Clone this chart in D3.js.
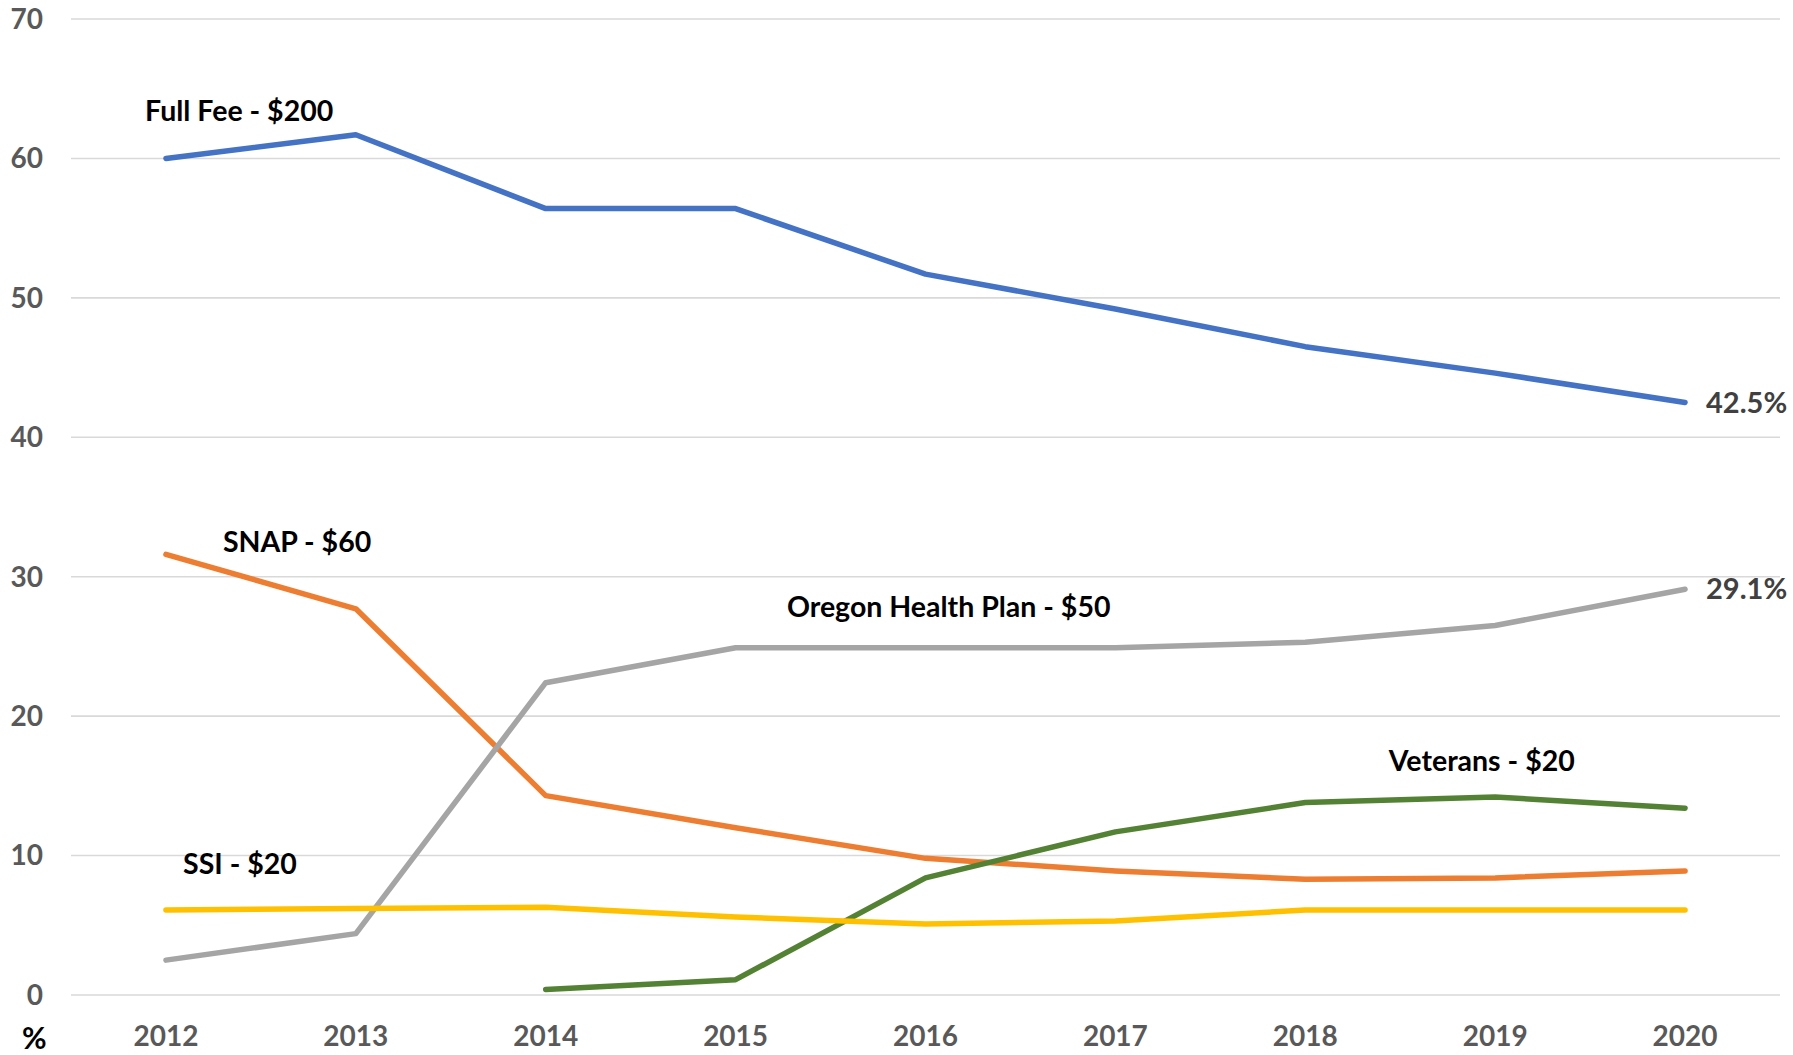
<!DOCTYPE html>
<html>
<head>
<meta charset="utf-8">
<script src="https://cdn.jsdelivr.net/npm/d3@7"></script>
<style>
  body { margin:0; background:#fff; }
  svg text { font-family: Lato, "Open Sans", sans-serif; font-weight:700; }
  .grid line { stroke:#d9d9d9; stroke-width:1.6; }
  .tick-lbl { fill:#595959; font-size:28px; }
  .series-lbl { fill:#000; font-size:28.5px; }
  .end-lbl { fill:#404040; font-size:29px; }
</style>
</head>
<body>
<svg width="1793" height="1055"></svg>
<script>
const years = [2012, 2013, 2014, 2015, 2016, 2017, 2018, 2019, 2020];
const yTicks = [0, 10, 20, 30, 40, 50, 60, 70];

const fullFee  = [60.0, 61.7, 56.4, 56.4, 51.7, 49.2, 46.5, 44.6, 42.5];
const snap     = [31.6, 27.7, 14.3, 12.0, 9.8, 8.9, 8.3, 8.4, 8.9];
const ohp      = [2.5, 4.4, 22.4, 24.9, 24.9, 24.9, 25.3, 26.5, 29.1];
const ssi      = [6.1, 6.2, 6.3, 5.6, 5.1, 5.3, 6.1, 6.1, 6.1];
const veterans = [null, null, 0.4, 1.1, 8.4, 11.7, 13.8, 14.2, 13.4];

const seriesNames  = ['Full Fee - $200', 'SNAP - $60', 'Oregon Health Plan - $50', 'Veterans - $20', 'SSI - $20'];
const seriesValues = [fullFee, snap, ohp, veterans, ssi];
const seriesColors = ['#4472c4', '#ed7d31', '#a5a5a5', '#548235', '#ffc000'];
// where each name sits: [year, value]
const labelAnchors = [[2011.89, 63.4], [2012.3, 32.5], [2015.27, 27.8], [2018.44, 16.8], [2012.09, 9.4]];

const svg = d3.select('svg');
const M = { top:19, right:13, bottom:60, left:71 };
const W = 1793, H = 1055;

const x = d3.scaleBand().domain(years).range([M.left, W - M.right]);
const xc = yr => x(yr) + x.bandwidth() / 2;
const y = d3.scaleLinear().domain([0, 70]).range([995, M.top]);

// gridlines
svg.append('g').attr('class', 'grid')
  .selectAll('line').data(yTicks).join('line')
    .attr('x1', M.left).attr('x2', W - M.right)
    .attr('y1', d => y(d)).attr('y2', d => y(d));

// y tick labels
svg.append('g').selectAll('text').data(yTicks).join('text')
  .attr('class', 'tick-lbl')
  .attr('x', 43).attr('y', d => y(d)).attr('dy', '0.35em')
  .attr('text-anchor', 'end')
  .text(d => d);

// x tick labels
svg.append('g').selectAll('text').data(years).join('text')
  .attr('class', 'tick-lbl')
  .attr('x', d => xc(d)).attr('y', 1036).attr('dy', '0.35em')
  .attr('text-anchor', 'middle')
  .text(d => d);

svg.append('text').attr('class', 'series-lbl')
  .style('font-size', '30px')
  .attr('x', 22).attr('y', 1038).attr('dy', '0.35em')
  .text('%');

// lines
const line = d3.line()
  .defined(d => d[1] != null)
  .x(d => xc(d[0])).y(d => y(d[1]));

seriesValues.forEach((vals, i) => {
  svg.append('path')
    .datum(years.map((yr, j) => [yr, vals[j]]))
    .attr('fill', 'none')
    .attr('stroke', seriesColors[i])
    .attr('stroke-width', 5.5)
    .attr('stroke-linecap', 'round')
    .attr('stroke-linejoin', 'round')
    .attr('d', line);
});

// series names
const xYear = d3.scaleLinear().domain([2012, 2020]).range([xc(2012), xc(2020)]);
svg.append('g').selectAll('text').data(seriesNames).join('text')
  .attr('class', 'series-lbl')
  .attr('x', (d, i) => xYear(labelAnchors[i][0]))
  .attr('y', (d, i) => y(labelAnchors[i][1]))
  .attr('dy', '0.35em')
  .text(d => d);

// end values
[fullFee, ohp].forEach(vals => {
  const v = vals[vals.length - 1];
  svg.append('text').attr('class', 'end-lbl')
    .attr('x', xc(2020) + 21).attr('y', y(v)).attr('dy', '0.35em')
    .text(v.toFixed(1) + '%');
});
</script>
</body>
</html>
